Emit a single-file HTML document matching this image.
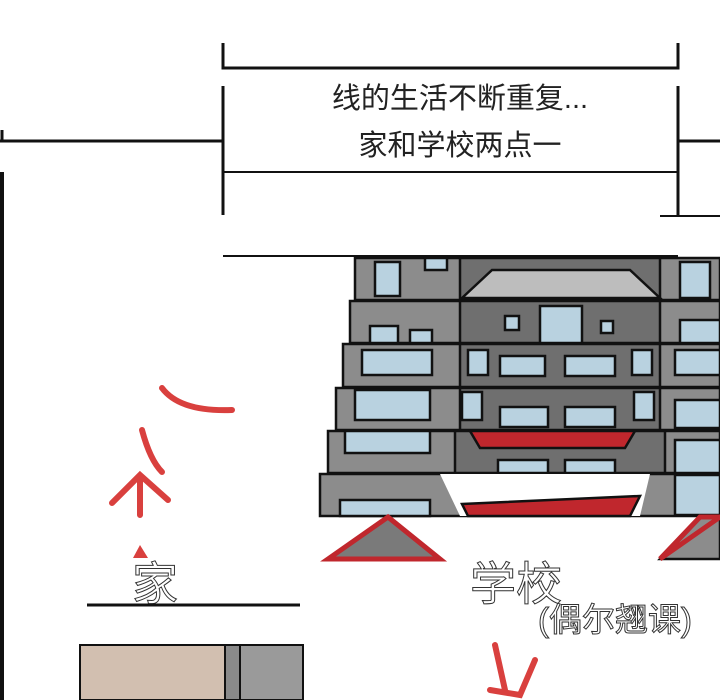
<!DOCTYPE html>
<html><head><meta charset="utf-8"><style>
html,body{margin:0;padding:0;background:#fff;width:720px;height:700px;overflow:hidden}
svg{display:block}
text{font-family:"Liberation Sans","Noto Sans CJK SC",sans-serif}
</style></head><body>
<svg width="720" height="700" viewBox="0 0 720 700" xmlns="http://www.w3.org/2000/svg">
<rect width="720" height="700" fill="#fff"/>
<g stroke="#111" fill="none">
<path d="M223 43V68H678V43" stroke-width="3"/>
<path d="M223 86V215M678 86V215" stroke-width="3"/>
<path d="M0 141H223M678 141H720" stroke-width="3"/>
<path d="M2 130V141" stroke-width="3"/>
<path d="M223 172H678" stroke-width="2"/>
<path d="M223 256H678" stroke-width="2"/>
<path d="M660 216H720" stroke-width="2"/>
<path d="M2 172V700" stroke-width="4"/>
</g>
<text x="460" y="108" font-size="29" text-anchor="middle" fill="#222">线的生活不断重复...</text>
<text x="460" y="155" font-size="29" text-anchor="middle" fill="#222">家和学校两点一</text>
<g stroke="#111" stroke-width="2.5">
<rect x="355" y="258" width="365" height="42" fill="#8c8c8c"/>
<rect x="460" y="258" width="200" height="42" fill="#6f6f6f"/>
<polygon points="462,298 492,270 630,270 660,298" fill="#bdbdbd"/>
<rect x="375" y="262" width="25" height="34" fill="#b9d2e0"/>
<rect x="425" y="258" width="22" height="12" fill="#b9d2e0"/>
<rect x="680" y="262" width="30" height="36" fill="#b9d2e0"/>

<rect x="350" y="301" width="370" height="42" fill="#8c8c8c"/>
<rect x="460" y="301" width="200" height="42" fill="#6f6f6f"/>
<rect x="505" y="316" width="14" height="14" fill="#b9d2e0"/>
<rect x="540" y="306" width="42" height="37" fill="#b9d2e0"/>
<rect x="601" y="321" width="12" height="12" fill="#b9d2e0"/>
<rect x="370" y="326" width="28" height="17" fill="#b9d2e0"/>
<rect x="410" y="330" width="22" height="13" fill="#b9d2e0"/>
<rect x="680" y="320" width="40" height="23" fill="#b9d2e0"/>

<rect x="343" y="344" width="377" height="43" fill="#8c8c8c"/>
<rect x="460" y="344" width="200" height="43" fill="#6f6f6f"/>
<rect x="362" y="350" width="70" height="25" fill="#b9d2e0"/>
<rect x="500" y="356" width="45" height="20" fill="#b9d2e0"/>
<rect x="565" y="356" width="50" height="20" fill="#b9d2e0"/>
<rect x="468" y="350" width="20" height="25" fill="#b9d2e0"/>
<rect x="632" y="350" width="20" height="25" fill="#b9d2e0"/>
<rect x="675" y="350" width="45" height="25" fill="#b9d2e0"/>

<rect x="336" y="388" width="384" height="42" fill="#8c8c8c"/>
<rect x="460" y="388" width="200" height="42" fill="#6f6f6f"/>
<rect x="355" y="390" width="75" height="30" fill="#b9d2e0"/>
<rect x="500" y="407" width="48" height="20" fill="#b9d2e0"/>
<rect x="565" y="407" width="50" height="20" fill="#b9d2e0"/>
<rect x="462" y="392" width="20" height="28" fill="#b9d2e0"/>
<rect x="634" y="392" width="20" height="28" fill="#b9d2e0"/>
<rect x="675" y="400" width="45" height="28" fill="#b9d2e0"/>

<rect x="328" y="431" width="392" height="42" fill="#8c8c8c"/>
<rect x="455" y="431" width="210" height="42" fill="#6f6f6f"/>
<polygon points="470,431 635,431 625,448 480,448" fill="#c0272d"/>
<rect x="345" y="431" width="85" height="22" fill="#b9d2e0"/>
<rect x="498" y="460" width="50" height="13" fill="#b9d2e0"/>
<rect x="565" y="460" width="50" height="13" fill="#b9d2e0"/>
<rect x="675" y="440" width="45" height="33" fill="#b9d2e0"/>

<rect x="320" y="474" width="400" height="42" fill="#8c8c8c"/>
<polygon points="440,474 650,474 640,516 460,516" fill="#fff" stroke="none"/>
<polygon points="462,504 640,496 630,516 468,516" fill="#c0272d"/>
<rect x="340" y="500" width="90" height="16" fill="#b9d2e0"/>
<rect x="675" y="475" width="45" height="40" fill="#b9d2e0"/>

<polygon points="328,559 388,517 440,559" fill="#7a7a7a" stroke="#c0272d" stroke-width="5"/>
<polygon points="660,559 700,517 720,517 720,559" fill="#8c8c8c"/>
<polygon points="660,559 700,517 720,517" fill="none" stroke="#c0272d" stroke-width="5"/>
</g>
<g font-size="46" fill="#fff" stroke="#333" stroke-width="1">
<text x="132" y="600">家</text>
<text x="470" y="600">学校</text>
<text x="538" y="631" font-size="33">(偶尔翘课)</text>
</g>
<path d="M87 605H300" stroke="#111" stroke-width="3"/>
<rect x="80" y="645" width="145" height="55" fill="#d2bfb0" stroke="#111" stroke-width="2"/>
<rect x="225" y="645" width="78" height="55" fill="#8a8a8a" stroke="#111" stroke-width="2"/>
<rect x="240" y="645" width="63" height="55" fill="#9a9a9a" stroke="#111" stroke-width="2"/>
<g stroke="#d9403e" stroke-width="6" fill="none" stroke-linecap="round">
<path d="M162 388Q180 412 232 410"/>
<path d="M142 430Q150 460 162 472"/>
<path d="M112 503L140 475L168 500M140 475V515"/>
<path d="M495 645L505 690M490 690L520 695L535 660"/>
</g>
<polygon points="140,545 133,558 148,558" fill="#d9403e"/>
</svg>
</body></html>
